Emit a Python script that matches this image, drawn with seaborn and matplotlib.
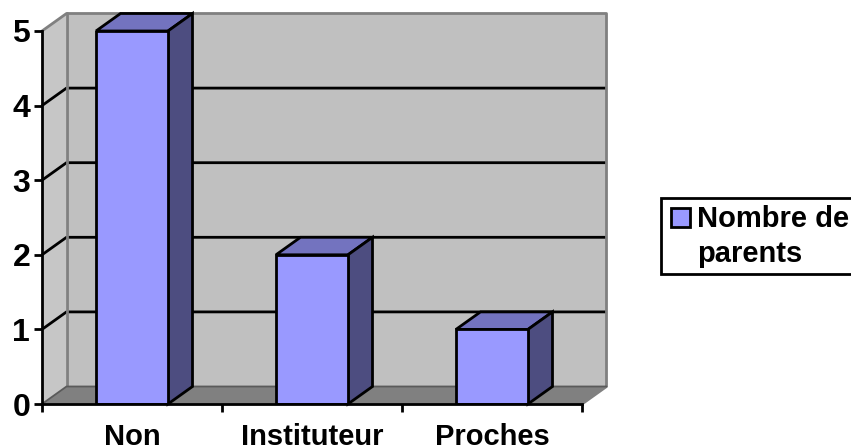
import matplotlib
matplotlib.use("Agg")
import matplotlib.pyplot as plt
import pandas as pd
import seaborn as sns
from matplotlib.patches import Polygon, Rectangle

# values
categories = ["Non", "Instituteur", "Proches"]
parents = [5, 2, 1]
y_ticks = [0, 1, 2, 3, 4, 5]
legend_lines = ["Nombre de", "parents"]

df = pd.DataFrame({"Categorie": categories, "Nombre": parents})

sns.set_theme(style="white")
plt.rcParams["font.family"] = ["Liberation Sans", "DejaVu Sans"]
plt.rcParams["font.weight"] = "bold"

W, H = 851, 448
fig = plt.figure(figsize=(W / 100, H / 100), dpi=100)
ax = fig.add_axes([42 / W, (H - 404) / H, 540 / W, 373 / H])

FRONT = "#9999ff"
TOP = "#7373bf"
SIDE = "#4d4d80"
LW = 2

# depth of the fake 3D box, in data units
dx = 24.5 / 180
dy = 17.5 / 74.6
x0, x1 = -0.5, 2.5
top = max(y_ticks)

# walls and floor
ax.add_patch(Polygon([(x0, 0), (x0 + dx, dy), (x0 + dx, top + dy), (x0, top)],
                     fc="#c6c6c6", ec="none", zorder=0.5, clip_on=False))
ax.add_patch(Polygon([(x0 + dx, dy), (x1 + dx, dy), (x1 + dx, top + dy), (x0 + dx, top + dy)],
                     fc="#c0c0c0", ec="none", zorder=0.5, clip_on=False))
ax.add_patch(Polygon([(x0, 0), (x1, 0), (x1 + dx, dy), (x0 + dx, dy)],
                     fc="#808080", ec="none", zorder=0.6, clip_on=False))

# gridlines: diagonal on the side wall, then across the back wall
for t in y_ticks[1:-1]:
    ax.plot([x0, x0 + dx, x1 + dx], [t, t + dy, t + dy], color="black", lw=LW,
            zorder=0.8, clip_on=False, solid_capstyle="butt")

# grey outline of the walls
ax.plot([x0, x0 + dx, x1 + dx, x1 + dx, x1], [top, top + dy, top + dy, dy, 0],
        color="#808080", lw=LW, zorder=0.9, clip_on=False)
ax.plot([x0 + dx, x0 + dx], [top + dy, dy], color="#808080", lw=LW,
        zorder=0.9, clip_on=False)
ax.plot([x0, x0 + dx, x1 + dx], [0, dy, dy], color="#5a5a5a", lw=1.3, zorder=0.9, clip_on=False)

sns.barplot(data=df, x="Categorie", y="Nombre", color=FRONT, saturation=1,
            width=0.4, edgecolor="black", linewidth=LW, ax=ax, zorder=3)

# top and side faces built from the bars seaborn drew
for bar in ax.patches:
    if not isinstance(bar, Rectangle) or bar.get_height() <= 0:
        continue
    bx0, bx1 = bar.get_x(), bar.get_x() + bar.get_width()
    h = bar.get_height()
    ax.add_patch(Polygon([(bx0, h), (bx1, h), (bx1 + dx, h + dy), (bx0 + dx, h + dy)],
                         fc=TOP, ec="black", lw=LW, zorder=2.5, clip_on=False, joinstyle="miter"))
    ax.add_patch(Polygon([(bx1, 0), (bx1 + dx, dy), (bx1 + dx, h + dy), (bx1, h)],
                         fc=SIDE, ec="black", lw=LW, zorder=2.5, clip_on=False, joinstyle="miter"))

ax.set_xlim(x0, x1)
ax.set_ylim(0, top)
ax.set_xlabel("")
ax.set_ylabel("")
ax.set_yticks(y_ticks)
ax.set_xticks([x0, 0.5, 1.5, x1], minor=False)
ax.set_xticklabels([])
ax.tick_params(axis="both", length=5.5, width=LW, color="black", direction="out",
               bottom=True, left=True, labelsize=23, pad=3, labelcolor="black")
for i, name in enumerate(categories):
    ax.annotate(name, xy=(i, 0), xytext=(0, -33), textcoords="offset pixels",
                xycoords="data", ha="center", va="center", fontsize=21,
                fontweight="bold", color="black", annotation_clip=False)
ax.set_axisbelow(False)
for s in ["top", "right"]:
    ax.spines[s].set_visible(False)
for s in ["left", "bottom"]:
    ax.spines[s].set_color("black")
    ax.spines[s].set_linewidth(LW)
    ax.spines[s].set_zorder(4)

# legend box runs off the right edge, so it is drawn in figure space
fig.add_artist(Rectangle((660.5 / W, (H - 273.5) / H), 200 / W, 76 / H, fc="white",
                         ec="black", lw=LW, transform=fig.transFigure))
fig.add_artist(Rectangle((671 / W, (H - 227.5) / H), 19 / W, 19 / H, fc=FRONT,
                         ec="black", lw=LW, transform=fig.transFigure))
fig.text(697 / W, (H - 219) / H, legend_lines[0], fontsize=21, fontweight="bold",
         va="center", ha="left", color="black")
fig.text(697 / W, (H - 254) / H, legend_lines[1], fontsize=21, fontweight="bold",
         va="center", ha="left", color="black")

fig.savefig("out.png", dpi=100)
